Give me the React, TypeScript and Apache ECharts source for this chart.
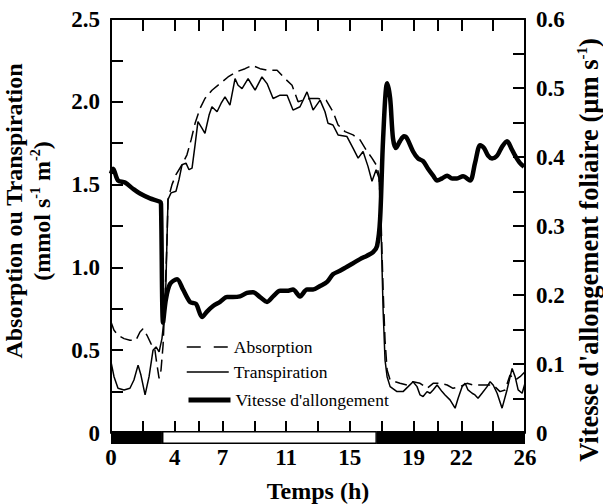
import React, { useEffect, useRef } from 'react';
import * as echarts from 'echarts';

const serif = 'Liberation Serif';

// Axis ticks and labels
const xTickValues = [0, 2, 4, 5.5, 7, 9, 11, 13, 15, 17, 19, 20.5, 22, 24, 26];
const xLabelValues = [0, 4, 7, 11, 15, 19, 22, 26];
const leftTickValues = [0, 0.25, 0.5, 0.75, 1, 1.25, 1.5, 1.75, 2, 2.25, 2.5];
const leftLabelValues = [0, 0.5, 1, 1.5, 2, 2.5];
const rightTickValues = [0, 0.05, 0.1, 0.15, 0.2, 0.25, 0.3, 0.35, 0.4, 0.45, 0.5, 0.55, 0.6];
const rightLabelValues = [0, 0.1, 0.2, 0.3, 0.4, 0.5, 0.6];

// Day / night periods (h)
const periodStart = [0, 3.2, 16.7];
const periodEnd = [3.2, 16.7, 26];
const periodIsDay = [0, 1, 0];

// [time (h), mmol s-1 m-2]
const absorption = [
  [0, 0.67], [0.19, 0.62], [0.44, 0.59], [0.82, 0.57], [1.19, 0.56], [1.57, 0.56], [1.82, 0.61], [2.01, 0.63],
  [2.26, 0.59], [2.51, 0.54], [2.76, 0.5], [2.89, 0.41], [3.02, 0.33], [3.14, 0.38], [3.27, 0.53], [3.39, 0.8],
  [3.52, 1.17], [3.58, 1.41], [3.83, 1.5], [4.08, 1.56], [4.46, 1.62], [4.77, 1.68], [5.03, 1.77], [5.28, 1.87],
  [5.59, 1.96], [5.9, 2.02], [6.34, 2.07], [6.85, 2.11], [7.35, 2.15], [7.85, 2.18], [8.42, 2.2], [8.86, 2.22],
  [9.36, 2.2], [9.86, 2.19], [10.43, 2.19], [10.93, 2.14], [11.37, 2.1], [11.75, 2.0], [12.06, 2.01], [12.5, 2.02],
  [13.0, 2.02], [13.51, 2.01], [13.94, 1.94], [14.26, 1.86], [14.7, 1.82], [15.2, 1.8], [15.64, 1.77], [16.02, 1.71],
  [16.39, 1.66], [16.65, 1.62], [16.83, 1.56], [16.96, 1.29], [17.09, 0.86], [17.21, 0.56], [17.34, 0.38], [17.53, 0.32],
  [17.84, 0.31], [18.15, 0.3], [18.59, 0.29], [18.97, 0.31], [19.41, 0.3], [19.85, 0.27], [20.23, 0.3], [20.67, 0.3],
  [21.11, 0.29], [21.48, 0.27], [21.92, 0.28], [22.36, 0.3], [22.74, 0.29], [23.18, 0.29], [23.62, 0.29], [24.0, 0.29],
  [24.43, 0.25], [24.75, 0.26], [25.06, 0.35], [25.38, 0.32], [25.69, 0.34], [26.0, 0.37]
];

// [time (h), mmol s-1 m-2]
const transpiration = [
  [0, 0.43], [0.19, 0.34], [0.44, 0.27], [0.82, 0.26], [1.19, 0.27], [1.44, 0.32], [1.7, 0.41], [1.88, 0.35],
  [2.14, 0.23], [2.39, 0.34], [2.64, 0.5], [2.83, 0.52], [3.02, 0.49], [3.2, 0.57], [3.39, 0.74], [3.45, 0.91],
  [3.58, 1.41], [3.77, 1.45], [4.08, 1.46], [4.27, 1.53], [4.46, 1.62], [4.71, 1.63], [4.9, 1.59], [5.09, 1.6],
  [5.28, 1.74], [5.46, 1.88], [5.72, 1.84], [5.9, 1.81], [6.16, 1.92], [6.34, 1.97], [6.66, 1.94], [6.91, 1.99],
  [7.16, 2.03], [7.47, 1.98], [7.79, 2.14], [7.98, 2.1], [8.23, 2.08], [8.61, 2.14], [8.86, 2.1], [9.05, 2.07],
  [9.48, 2.15], [9.8, 2.11], [10.18, 2.02], [10.62, 2.04], [11.06, 2.04], [11.43, 1.95], [11.87, 1.97], [12.31, 2.06],
  [12.69, 1.95], [13.13, 2.01], [13.44, 1.94], [13.63, 1.87], [13.94, 1.86], [14.26, 1.8], [14.82, 1.79], [15.2, 1.72],
  [15.52, 1.66], [15.83, 1.7], [16.14, 1.61], [16.39, 1.52], [16.65, 1.59], [16.83, 1.54], [16.96, 1.23], [17.09, 0.74],
  [17.21, 0.44], [17.34, 0.34], [17.53, 0.28], [17.96, 0.25], [18.34, 0.25], [18.66, 0.28], [18.97, 0.31], [19.22, 0.28],
  [19.41, 0.23], [19.6, 0.22], [19.85, 0.25], [20.04, 0.24], [20.23, 0.26], [20.48, 0.29], [20.79, 0.25], [20.98, 0.23],
  [21.29, 0.2], [21.61, 0.15], [21.8, 0.21], [22.05, 0.28], [22.24, 0.3], [22.42, 0.26], [22.68, 0.24], [22.86, 0.23],
  [23.05, 0.21], [23.3, 0.24], [23.62, 0.28], [23.81, 0.31], [24.0, 0.29], [24.25, 0.24], [24.56, 0.15], [24.87, 0.26],
  [25.19, 0.39], [25.38, 0.34], [25.57, 0.26], [25.82, 0.24], [26.0, 0.3]
];

// [time (h), µm s-1]
const vitesse = [
  [0, 0.376], [0.13, 0.383], [0.44, 0.366], [0.88, 0.363], [1.38, 0.354], [1.82, 0.347], [2.45, 0.34], [3.08, 0.335],
  [3.14, 0.332], [3.27, 0.16], [3.45, 0.194], [3.71, 0.216], [4.15, 0.223], [4.52, 0.208], [4.96, 0.19], [5.34, 0.187],
  [5.72, 0.168], [6.03, 0.176], [6.41, 0.184], [6.85, 0.19], [7.29, 0.197], [7.66, 0.197], [8.1, 0.198], [8.54, 0.203],
  [8.92, 0.204], [9.36, 0.197], [9.8, 0.19], [10.18, 0.198], [10.62, 0.206], [11.06, 0.206], [11.43, 0.208], [11.87, 0.198],
  [12.31, 0.208], [12.69, 0.208], [13.13, 0.213], [13.57, 0.219], [13.94, 0.23], [14.38, 0.235], [14.82, 0.241], [15.2, 0.246],
  [15.64, 0.252], [16.08, 0.257], [16.46, 0.262], [16.71, 0.271], [16.9, 0.31], [17.09, 0.427], [17.34, 0.507], [17.53, 0.485],
  [17.71, 0.427], [17.9, 0.413], [18.15, 0.423], [18.4, 0.43], [18.59, 0.427], [18.97, 0.408], [19.28, 0.398], [19.6, 0.394],
  [19.91, 0.383], [20.23, 0.373], [20.48, 0.366], [20.79, 0.369], [21.11, 0.373], [21.42, 0.369], [21.73, 0.369], [22.11, 0.372],
  [22.55, 0.366], [22.86, 0.391], [23.18, 0.417], [23.43, 0.413], [23.68, 0.402], [23.93, 0.398], [24.25, 0.402], [24.56, 0.415],
  [24.87, 0.423], [25.13, 0.413], [25.38, 0.402], [25.69, 0.391], [25.94, 0.386]
];

const labelStyle = { fontFamily: serif, fontWeight: 'bold' as const, fontSize: 23, color: '#000' };
const fmt = (v: number) => (v === 0 ? '0' : v.toFixed(1));

export default function App() {
  const ref = useRef<HTMLDivElement>(null);
  useEffect(() => {
    if (!ref.current) return;
    const chart = echarts.init(ref.current, undefined, { renderer: 'svg' });
    const legendText = { fontFamily: serif, fontSize: 17.5, color: '#000' };
    const hiddenSymbol = { opacity: 0, borderWidth: 0 };
    const option: any = {
      animation: false,
      backgroundColor: '#ffffff',
      textStyle: { fontFamily: serif },
      grid: { left: 111, right: 78, top: 19, bottom: 71, containLabel: false, outerBoundsMode: 'none' },
      xAxis: [
        {
          type: 'value', min: 0, max: 26, position: 'bottom',
          axisLine: { show: false, onZero: false },
          axisTick: { show: true, inside: true, length: 12, customValues: xTickValues, lineStyle: { color: '#000', width: 2 } },
          axisLabel: { customValues: xLabelValues, margin: 13, ...labelStyle, formatter: (v: number) => String(v) },
          splitLine: { show: false },
          name: 'Temps (h)', nameLocation: 'middle', nameGap: 46,
          nameTextStyle: { fontFamily: serif, fontWeight: 'bold', fontSize: 24, color: '#000' }
        },
        {
          type: 'value', min: 0, max: 26, position: 'top',
          axisLine: { show: true, onZero: false, lineStyle: { color: '#000', width: 2 } },
          axisTick: { show: true, inside: true, length: 12, customValues: xTickValues, lineStyle: { color: '#000', width: 2 } },
          axisLabel: { show: false },
          splitLine: { show: false }
        }
      ],
      yAxis: [
        {
          type: 'value', min: 0, max: 2.5, position: 'left',
          axisLine: { show: true, onZero: false, lineStyle: { color: '#000', width: 2 } },
          axisTick: { show: true, inside: true, length: 12, customValues: leftTickValues, lineStyle: { color: '#000', width: 2 } },
          axisLabel: { customValues: leftLabelValues, margin: 11, ...labelStyle, formatter: fmt },
          splitLine: { show: false }
        },
        {
          type: 'value', min: 0, max: 0.6, position: 'right',
          axisLine: { show: true, onZero: false, lineStyle: { color: '#000', width: 2 } },
          axisTick: { show: true, inside: true, length: 12, customValues: rightTickValues, lineStyle: { color: '#000', width: 2 } },
          axisLabel: { customValues: rightLabelValues, margin: 11, ...labelStyle, formatter: fmt },
          splitLine: { show: false }
        }
      ],
      legend: [
        {
          data: ['Absorption'], left: 186, top: 338, orient: 'vertical', padding: 0,
          itemWidth: 42, itemHeight: 18, selectedMode: false, itemStyle: hiddenSymbol,
          lineStyle: { width: 1.5, type: [14, 13] }, textStyle: legendText
        },
        {
          data: ['Transpiration'], left: 186, top: 363, orient: 'vertical', padding: 0,
          itemWidth: 42, itemHeight: 18, selectedMode: false, itemStyle: hiddenSymbol,
          lineStyle: { width: 1.5 }, textStyle: legendText
        },
        {
          data: ["Vitesse d'allongement"], left: 186, top: 391, orient: 'vertical', padding: 0,
          itemWidth: 42, itemHeight: 18, selectedMode: false, itemStyle: hiddenSymbol,
          lineStyle: { width: 5 }, textStyle: legendText
        }
      ],
      graphic: [
        {
          type: 'text', x: 28, y: 211, rotation: Math.PI / 2,
          style: {
            text: '{b|Absorption ou Transpiration}\n{b|(mmol s}{s|-1}{b| m}{s|-2}{b|)}',
            align: 'center', verticalAlign: 'middle', fill: '#000',
            rich: {
              b: { fontFamily: serif, fontWeight: 'bold', fontSize: 24, lineHeight: 28, fill: '#000' },
              s: { fontFamily: serif, fontWeight: 'bold', fontSize: 14, lineHeight: 14, verticalAlign: 'top', fill: '#000' }
            }
          }
        },
        {
          type: 'text', x: 589, y: 250, rotation: Math.PI / 2,
          style: {
            text: "{b|Vitesse d'allongement foliaire (µm s}{s|-1}{b|)}",
            align: 'center', verticalAlign: 'middle', fill: '#000',
            rich: {
              b: { fontFamily: serif, fontWeight: 'bold', fontSize: 26.5, lineHeight: 29, fill: '#000' },
              s: { fontFamily: serif, fontWeight: 'bold', fontSize: 15, lineHeight: 15, verticalAlign: 'top', fill: '#000' }
            }
          }
        }
      ],
      series: [
        {
          name: 'Absorption', type: 'line', xAxisIndex: 0, yAxisIndex: 0, data: absorption,
          symbol: 'none', lineStyle: { color: '#000', width: 1.5, type: [12, 6] }, itemStyle: { color: '#000' }, z: 3
        },
        {
          name: 'Transpiration', type: 'line', xAxisIndex: 0, yAxisIndex: 0, data: transpiration,
          symbol: 'none', lineStyle: { color: '#000', width: 1.5 }, itemStyle: { color: '#000' }, z: 3
        },
        {
          name: "Vitesse d'allongement", type: 'line', xAxisIndex: 0, yAxisIndex: 1, data: vitesse,
          symbol: 'none', smooth: 0.3, lineStyle: { color: '#000', width: 4.5 }, itemStyle: { color: '#000' }, z: 4
        },
        {
          type: 'custom', xAxisIndex: 0, yAxisIndex: 0, silent: true, clip: false, z: 6,
          data: periodStart.map((s, i) => [s, periodEnd[i], periodIsDay[i]]),
          encode: { x: [0, 1] },
          renderItem: (params: any, api: any) => {
            const p0 = api.coord([api.value(0), 0]);
            const p1 = api.coord([api.value(1), 0]);
            const y0 = p0[1];
            const w = p1[0] - p0[0];
            const children: any[] = [
              { type: 'rect', shape: { x: p0[0], y: y0 - 2, width: w, height: 13 }, style: { fill: '#000' } }
            ];
            if (api.value(2) === 1) {
              children.push({ type: 'rect', shape: { x: p0[0] + 1.5, y: y0 - 0.5, width: w - 3, height: 10 }, style: { fill: '#fff' } });
            }
            return { type: 'group', children };
          }
        }
      ]
    };
    chart.setOption(option);
    return () => chart.dispose();
  }, []);
  return <div ref={ref} style={{ position: 'fixed', left: 0, top: 0, width: 603, height: 504 }} />;
}
